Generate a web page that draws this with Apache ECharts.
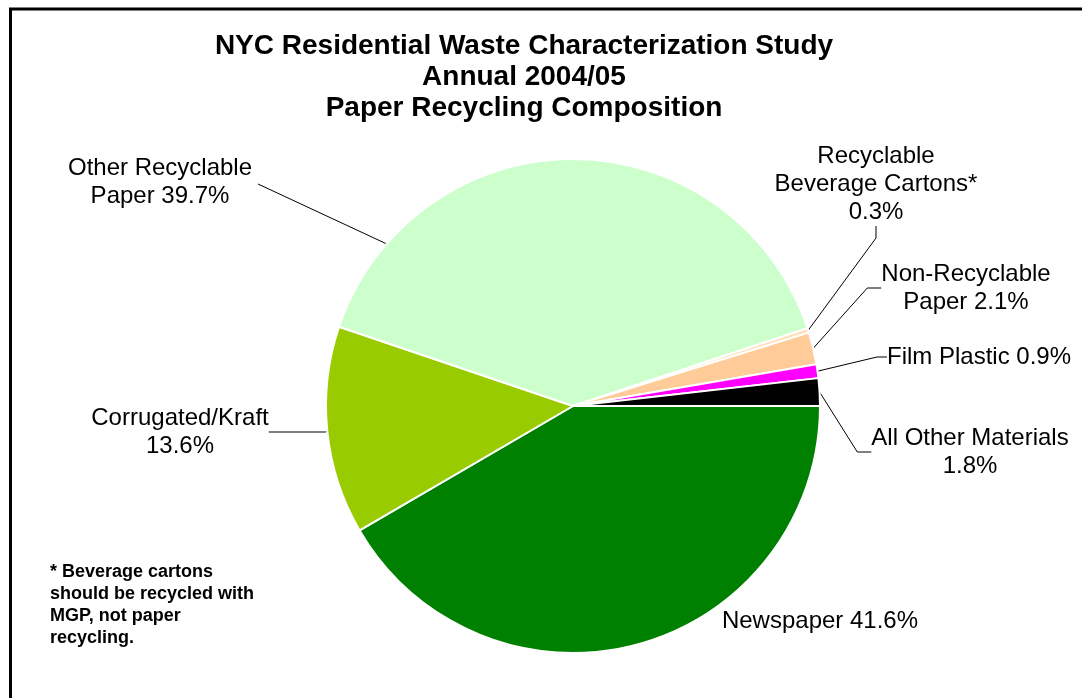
<!DOCTYPE html>
<html>
<head>
<meta charset="utf-8">
<script src="https://cdn.jsdelivr.net/npm/echarts@6/dist/echarts.min.js"></script>
<style>
  html, body { margin: 0; padding: 0; background: #fff; }
  #chart { width: 1082px; height: 698px; }
</style>
</head>
<body>
<div id="chart"></div>
<script>
// ---- data ----
const categories = ['Newspaper', 'Corrugated/Kraft', 'Other Recyclable Paper', 'Recyclable Beverage Cartons*', 'Non-Recyclable Paper', 'Film Plastic', 'All Other Materials'];
const values = [41.6, 13.6, 39.7, 0.3, 2.1, 0.9, 1.8];
// label text templates ({v} is replaced by the value)
const labelTemplates = ['Newspaper {v}', 'Corrugated/Kraft\n{v}', 'Other Recyclable\nPaper {v}', 'Recyclable\nBeverage Cartons*\n{v}', 'Non-Recyclable\nPaper {v}', 'Film Plastic {v}', 'All Other Materials\n{v}'];
const titleLines = ['NYC Residential Waste Characterization Study', 'Annual 2004/05', 'Paper Recycling Composition'];
const footnoteLines = ['* Beverage cartons', 'should be recycled with', 'MGP, not paper', 'recycling.'];

// ---- styling / layout ----
const colors = ['#008000', '#99CC00', '#CCFFCC', '#FFE0B8', '#FFCC99', '#FF00FF', '#000000'];
const labelPos = [[820, 621], [180, 432], [160, 182], [876, 184], [966, 288], [979, 357], [970, 452]];
const lineLen2 = [0, 57, 0, 12, 14, 10, 14];
const CENTER = [573, 406];
const RADIUS = 247;
const FONT = '"Liberation Sans", Arial, sans-serif';

const total = values.reduce((a, b) => a + b, 0);
// point on the pie edge at a fraction through slice i (angles clockwise from east)
function edgePoint(i, frac) {
  let before = 0;
  for (let k = 0; k < i; k++) before += values[k];
  const ang = (before + values[i] * frac) / total * 2 * Math.PI;
  return [CENTER[0] + RADIUS * Math.cos(ang), CENTER[1] + RADIUS * Math.sin(ang)];
}

const chart = echarts.init(document.getElementById('chart'));
const pieData = categories.map((c, i) => ({
  name: c,
  value: values[i],
  itemStyle: { color: colors[i] },
  labelLine: { show: i !== 0, length2: lineLen2[i] }
}));

chart.setOption({
  animation: false,
  backgroundColor: '#ffffff',
  graphic: [
    { type: 'rect', shape: { x: 10.5, y: 9, width: 1200, height: 800 }, style: { fill: 'none', stroke: '#000', lineWidth: 3 }, silent: true },
    { type: 'text', style: { text: titleLines.join('\n'), x: 524, y: 31, align: 'center', verticalAlign: 'top', font: 'bold 28px ' + FONT, lineHeight: 31, fill: '#000' } },
    { type: 'text', style: { text: footnoteLines.join('\n'), x: 50, y: 561, align: 'left', verticalAlign: 'top', font: 'bold 18px ' + FONT, lineHeight: 22, fill: '#000' } }
  ],
  series: [{
    type: 'pie',
    center: CENTER,
    radius: RADIUS,
    startAngle: 0,
    clockwise: true,
    avoidLabelOverlap: false,
    itemStyle: { borderColor: '#ffffff', borderWidth: 2 },
    emphasis: { disabled: true },
    label: {
      show: true,
      position: 'outside',
      color: '#000',
      fontFamily: FONT,
      fontSize: 24,
      lineHeight: 28,
      align: 'center',
      formatter: p => labelTemplates[p.dataIndex].replace('{v}', p.value.toFixed(1) + '%')
    },
    labelLine: { show: true, lineStyle: { color: '#000', width: 1 }, length: 10, length2: 10 },
    labelLayout: p => {
      const pos = labelPos[p.dataIndex];
      const out = { x: pos[0], y: pos[1], align: 'center', verticalAlign: 'middle', moveOverlap: null, hideOverlap: false };
      if (p.dataIndex === 2) {
        const e = edgePoint(2, 0.156);
        const l = [pos[0] + 98, pos[1] + 2];
        out.labelLinePoints = [e, l, l];
      }
      return out;
    },
    data: pieData
  }]
});
</script>
</body>
</html>
